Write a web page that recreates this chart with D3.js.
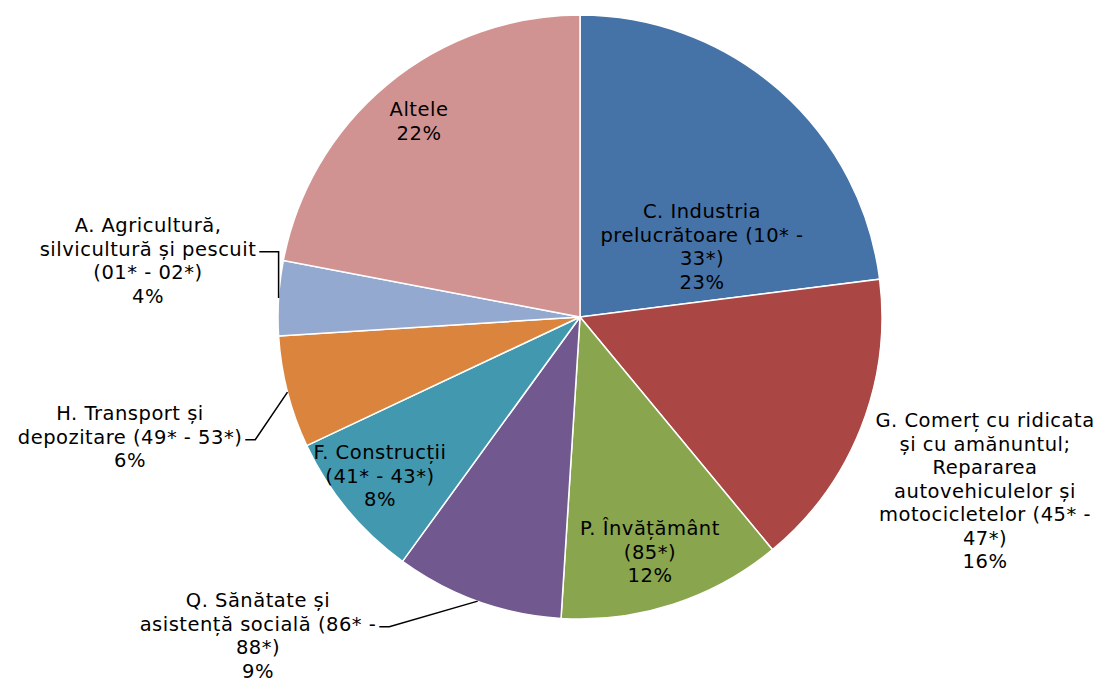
<!DOCTYPE html>
<html>
<head>
<meta charset="utf-8">
<script src="https://cdn.jsdelivr.net/npm/d3@7"></script>
<style>
  body { margin: 0; background: #fff; }
  text { font-family: "DejaVu Sans", sans-serif; font-size: 19.5px; letter-spacing: 0.5px; fill: #000; }
</style>
</head>
<body>
<div id="plot"></div>
<script>
// sectors, clockwise from 12 o'clock
let categories = [
  ['C. Industria', 'prelucrătoare (10* -', '33*)'],
  ['G. Comerț cu ridicata', 'și cu amănuntul;', 'Repararea', 'autovehiculelor și', 'motocicletelor (45* -', '47*)'],
  ['P. Învățământ', '(85*)'],
  ['Q. Sănătate și', 'asistență socială (86* -', '88*)'],
  ['F. Construcții', '(41* - 43*)'],
  ['H. Transport și', 'depozitare (49* - 53*)'],
  ['A. Agricultură,', 'silvicultură și pescuit', '(01* - 02*)'],
  ['Altele']
];
let values = [23, 16, 12, 9, 8, 6, 4, 22];
let colors = ['#4572A7', '#AA4643', '#89A54E', '#71588F', '#4198AF', '#DB843D', '#93A9CF', '#D19392'];

// label layout: centre x, first line y, and leader hook for outside labels
let labelPos = [
  {x: 702, y: 218},
  {x: 985, y: 427},
  {x: 650, y: 535},
  {x: 258, y: 607, leader: {row: 1}},
  {x: 380, y: 459},
  {x: 130, y: 420, leader: {row: 1}},
  {x: 148, y: 232, leader: {row: 1, vertical: true}},
  {x: 419, y: 116}
];

let width = 1097, height = 682, cx = 580, cy = 317, radius = 302, lineH = 23.5;

let svg = d3.select('#plot').append('svg').attr('width', width).attr('height', height);
let g = svg.append('g').attr('transform', `translate(${cx},${cy})`);

let pie = d3.pie().sort(null).value(d => d);
let arcs = pie(values);
let arc = d3.arc().innerRadius(0).outerRadius(radius);

g.selectAll('path')
  .data(arcs)
  .enter()
  .append('path')
  .attr('d', arc)
  .style('fill', (d, i) => colors[i])
  .style('stroke', '#fff')
  .style('stroke-width', 1.5);

let fmt = d3.format('.0%');
let total = d3.sum(values);

let labels = svg.selectAll('text.lbl')
  .data(arcs)
  .enter()
  .append('text')
  .attr('class', 'lbl')
  .attr('text-anchor', 'middle');

labels.each(function(d, i) {
  let t = d3.select(this);
  let lines = categories[i].concat([fmt(d.value / total)]);
  lines.forEach((s, j) => {
    t.append('tspan').attr('x', labelPos[i].x).attr('y', labelPos[i].y + j * lineH).text(s);
  });
});

// leader lines for outside labels
labels.each(function(d, i) {
  let p = labelPos[i];
  if (!p.leader) return;
  let tspan = d3.select(this).selectAll('tspan').nodes()[p.leader.row];
  let bb = tspan.getBBox();
  let sx = bb.x + bb.width + 3, sy = bb.y + bb.height * 0.62;
  let a = (d.startAngle + d.endAngle) / 2;
  let ex = cx + radius * Math.sin(a), ey = cy - radius * Math.cos(a);
  let pts;
  if (p.leader.vertical) pts = [[sx, sy], [ex, sy], [ex, ey]];
  else pts = [[sx, sy], [sx + 10, sy], [ex, ey]];
  svg.append('path')
    .attr('d', d3.line()(pts))
    .style('fill', 'none')
    .style('stroke', '#000')
    .style('stroke-width', 1.5);
});
</script>
</body>
</html>
